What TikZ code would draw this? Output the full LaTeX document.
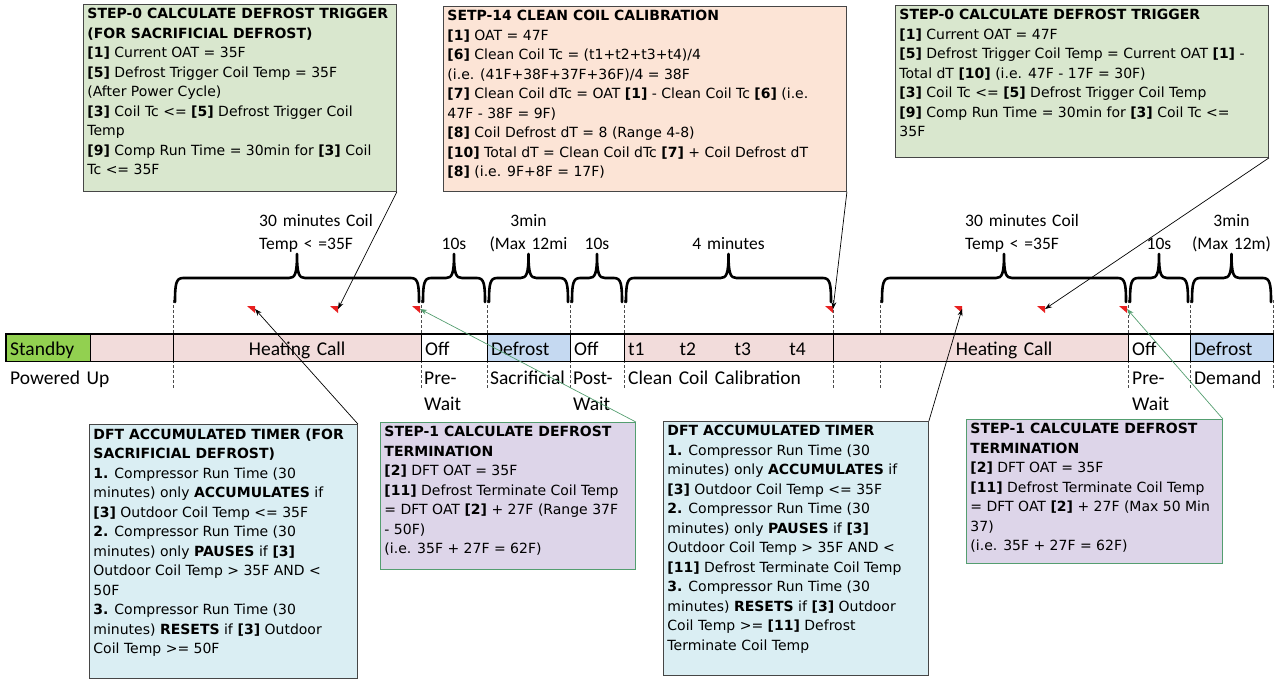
\documentclass[tikz,border=0pt]{standalone}
\usepackage{fontspec}
\setmainfont{DejaVu Sans}
\newfontfamily\calibri{Carlito}
\usetikzlibrary{arrows.meta, positioning, calc}
\definecolor{notegreen}{RGB}{217, 231, 206}
\definecolor{noteorange}{RGB}{252, 228, 214}
\definecolor{noteblue}{RGB}{218, 238, 243}
\definecolor{notepurple}{RGB}{221, 213, 233}
\definecolor{boxgray}{RGB}{70, 70, 70}
\definecolor{termgreen}{RGB}{84, 158, 112}
\definecolor{heatpink}{RGB}{242, 220, 219}
\definecolor{defrostblue}{RGB}{197, 217, 241}
\definecolor{standbygreen}{RGB}{146, 208, 80}
\definecolor{markred}{RGB}{232, 32, 32}

\newcommand{\notefont}{\fontsize{14}{19.5}\selectfont}
\newcommand{\barfont}{\calibri\fontsize{19.5}{26.5}\selectfont}
\newcommand{\spanfont}{\calibri\fontsize{17.5}{23.5}\selectfont}
\newcommand{\notetext}[3]{\parbox[t][#1][t]{#2}{\raggedright #3}}

\tikzset{
    note box/.style={
        rectangle,
        anchor=north west,
        draw=boxgray,
        line width=0.9pt,
        inner sep=4pt,
        font=\notefont
    },
    trigger note/.style={note box, fill=notegreen},
    calib note/.style={note box, fill=noteorange},
    timer note/.style={note box, fill=noteblue},
    term note/.style={note box, fill=notepurple, draw=termgreen},
    bar cell/.style={
        rectangle,
        anchor=north west,
        minimum width=#1,
        text width=#1-8pt,
        minimum height=27pt,
        inner xsep=4pt,
        inner ysep=0pt,
        text height=16pt,
        text depth=1pt,
        align=left,
        font=\barfont
    },
    bar line/.style={line width=1.2pt, draw=black},
    guide/.style={line width=0.7pt, dash pattern=on 3pt off 2pt, draw=black!70},
    span brace/.style={line width=2.6pt, line join=round, line cap=round},
    span label/.style={font=\spanfont, inner sep=0pt, anchor=base, text width=130pt, align=center},
    phase label/.style={font=\barfont, inner sep=0pt, anchor=base west, text width=200pt, align=left},
    callout/.style={-{Stealth[length=7pt, width=5pt]}, line width=0.7pt, draw=black},
    green callout/.style={callout, draw=termgreen}
}

\begin{document}
\begin{tikzpicture}[x=1pt, y=-1pt]
\useasboundingbox (0,0) rectangle (1281,681);

% === GUIDE LINES ===
\foreach \x in {173, 421, 487, 570, 624, 833, 880, 1128, 1190, 1273}
    \draw[guide] (\x,300) -- (\x,388);

% === TIMELINE BAR ===
\node[bar cell=84pt, fill=standbygreen] (standby) at (6,334) {Standby};
\node[bar cell=83pt, fill=heatpink] (warmup) at (90,334) {};
\node[bar cell=248pt, fill=heatpink, align=center] (heat_a) at (173,334) {Heating Call};
\node[bar cell=66pt, fill=white] (off_a) at (421,334) {Off};
\node[bar cell=83pt, fill=defrostblue] (defrost_a) at (487,334) {Defrost};
\node[bar cell=54pt, fill=white] (off_b) at (570,334) {Off};
\node[bar cell=209pt, fill=heatpink] (calib) at (624,334)
    {t1\hspace{35pt}t2\hspace{38.5pt}t3\hspace{38.5pt}t4};
\node[bar cell=47pt, fill=heatpink] (idle) at (833,334) {};
\node[bar cell=248pt, fill=heatpink, align=center] (heat_b) at (880,334) {Heating Call};
\node[bar cell=62pt, fill=white] (off_c) at (1128,334) {Off};
\node[bar cell=83pt, fill=defrostblue] (defrost_b) at (1190,334) {Defrost};

\draw[bar line] (standby.north west) rectangle (defrost_b.south east);
\foreach \c in {standby, warmup, heat_a, off_a, defrost_a, off_b, calib, heat_b, off_c}
    \draw[bar line] (\c.north east) -- (\c.south east);

% Phase names under the bar
\node[phase label] (powered) at (10,384) {Powered Up};
\node[phase label] (pre_a) at (424,384) {Pre-\\Wait};
\node[phase label] (sacrificial) at (490,384) {Sacrificial};
\node[phase label] (post) at (573,384) {Post-\\Wait};
\node[phase label] (calib_name) at (628,384) {Clean Coil Calibration};
\node[phase label] (pre_b) at (1132,384) {Pre-\\Wait};
\node[phase label] (demand) at (1194,384) {Demand};

% === DURATION BRACES ===
\foreach \xa/\xb in {173/421, 421/487, 487/570, 570/624, 624/833, 880/1128, 1128/1190, 1190/1273} {
    \pgfmathsetmacro{\xm}{(\xa+\xb)/2}
    \draw[span brace] (\xa+2,302) .. controls (\xa+2,284) and (\xa+3,278) .. (\xa+10,278)
        -- (\xm-8,278) .. controls (\xm-2,278) and (\xm,274) .. (\xm,254)
        .. controls (\xm,274) and (\xm+2,278) .. (\xm+8,278)
        -- (\xb-10,278) .. controls (\xb-3,278) and (\xb-2,284) .. (\xb-2,302);
}

\node[span label, anchor=base west, align=left] (run_a) at (259,226) {30 minutes Coil\\Temp < =35F};
\node[span label] (wait_a) at (454,249.5) {10s};
\node[span label] (sac_len) at (528.5,226) {3min\\(Max 12mi};
\node[span label] (wait_b) at (597,249.5) {10s};
\node[span label] (cal_len) at (728.5,249.5) {4 minutes};
\node[span label, anchor=base west, align=left] (run_b) at (965,226) {30 minutes Coil\\Temp < =35F};
\node[span label] (wait_c) at (1159,249.5) {10s};
\node[span label] (dem_len) at (1231.5,226) {3min\\(Max 12m)};

% Comment markers
\foreach \m/\x in {mk1/255, mk2/338, mk3/420, mk4/833, mk5/962, mk6/1045, mk7/1127} {
    \coordinate (\m) at (\x,309);
    \fill[markred] (\x,306) -- (\x-8,306) -- (\x,313) -- cycle;
}

% === NOTES ===
\node[trigger note] (sac_trigger) at (83,4) {\notetext{179pt}{305pt}{%
    \textbf{STEP-0 CALCULATE DEFROST TRIGGER}\\
    \textbf{(FOR SACRIFICIAL DEFROST)}\\
    \textbf{[1]} Current OAT = 35F\\
    \textbf{[5]} Defrost Trigger Coil Temp = 35F\\
    (After Power Cycle)\\
    \textbf{[3]} Coil Tc <= \textbf{[5]} Defrost Trigger Coil\\
    Temp\\
    \textbf{[9]} Comp Run Time = 30min for \textbf{[3]} Coil\\
    Tc <= 35F}};

\node[calib note] (coil_cal) at (443,6) {\notetext{177pt}{395pt}{%
    \textbf{SETP-14 CLEAN COIL CALIBRATION}\\
    \textbf{[1]} OAT = 47F\\
    \textbf{[6]} Clean Coil Tc = (t1+t2+t3+t4)/4\\
    (i.e. (41F+38F+37F+36F)/4 = 38F\\
    \textbf{[7]} Clean Coil dTc = OAT \textbf{[1]} - Clean Coil Tc \textbf{[6]} (i.e.\\
    47F - 38F = 9F)\\
    \textbf{[8]} Coil Defrost dT = 8 (Range 4-8)\\
    \textbf{[10]} Total dT = Clean Coil dTc \textbf{[7]} + Coil Defrost dT\\
    \textbf{[8]} (i.e. 9F+8F = 17F)}};

\node[trigger note] (dem_trigger) at (895,5) {\notetext{144pt}{365pt}{%
    \textbf{STEP-0 CALCULATE DEFROST TRIGGER}\\
    \textbf{[1]} Current OAT = 47F\\
    \textbf{[5]} Defrost Trigger Coil Temp = Current OAT \textbf{[1]} -\\
    Total dT \textbf{[10]} (i.e. 47F - 17F = 30F)\\
    \textbf{[3]} Coil Tc <= \textbf{[5]} Defrost Trigger Coil Temp\\
    \textbf{[9]} Comp Run Time = 30min for \textbf{[3]} Coil Tc <=\\
    35F}};

\node[timer note] (sac_timer) at (89,424) {\notetext{246pt}{260pt}{%
    \textbf{DFT ACCUMULATED TIMER (FOR}\\
    \textbf{SACRIFICIAL DEFROST)}\\
    \textbf{1.} Compressor Run Time (30\\
    minutes) only \textbf{ACCUMULATES} if\\
    \textbf{[3]} Outdoor Coil Temp <= 35F\\
    \textbf{2.} Compressor Run Time (30\\
    minutes) only \textbf{PAUSES} if \textbf{[3]}\\
    Outdoor Coil Temp > 35F AND <\\
    50F\\
    \textbf{3.} Compressor Run Time (30\\
    minutes) \textbf{RESETS} if \textbf{[3]} Outdoor\\
    Coil Temp >= 50F}};

\node[term note] (sac_term) at (380,422) {\notetext{139pt}{247pt}{%
    \textbf{STEP-1 CALCULATE DEFROST}\\
    \textbf{TERMINATION}\\
    \textbf{[2]} DFT OAT = 35F\\
    \textbf{[11]} Defrost Terminate Coil Temp\\
    = DFT OAT \textbf{[2]} + 27F (Range 37F\\
    - 50F)\\
    (i.e. 35F + 27F = 62F)}};

\node[timer note] (dem_timer) at (663,421) {\notetext{246pt}{257pt}{%
    \textbf{DFT ACCUMULATED TIMER}\\
    \textbf{1.} Compressor Run Time (30\\
    minutes) only \textbf{ACCUMULATES} if\\
    \textbf{[3]} Outdoor Coil Temp <= 35F\\
    \textbf{2.} Compressor Run Time (30\\
    minutes) only \textbf{PAUSES} if \textbf{[3]}\\
    Outdoor Coil Temp > 35F AND <\\
    \textbf{[11]} Defrost Terminate Coil Temp\\
    \textbf{3.} Compressor Run Time (30\\
    minutes) \textbf{RESETS} if \textbf{[3]} Outdoor\\
    Coil Temp >= \textbf{[11]} Defrost\\
    Terminate Coil Temp}};

\node[term note] (dem_term) at (966,419) {\notetext{136pt}{248pt}{%
    \textbf{STEP-1 CALCULATE DEFROST}\\
    \textbf{TERMINATION}\\
    \textbf{[2]} DFT OAT = 35F\\
    \textbf{[11]} Defrost Terminate Coil Temp\\
    = DFT OAT \textbf{[2]} + 27F (Max 50 Min\\
    37)\\
    (i.e. 35F + 27F = 62F)}};

% === CALLOUTS ===
\draw[callout] (sac_trigger.south east) -- (mk2);
\draw[callout] (sac_timer.north east) -- (mk1);
\draw[green callout] (sac_term.north east) -- (mk3);
\draw[callout] (coil_cal.south east) -- (mk4);
\draw[callout] (dem_timer.north east) -- (mk5);
\draw[callout] (dem_trigger.south east) -- (mk6);
\draw[green callout] (dem_term.north east) -- (mk7);

\end{tikzpicture}
\end{document}
